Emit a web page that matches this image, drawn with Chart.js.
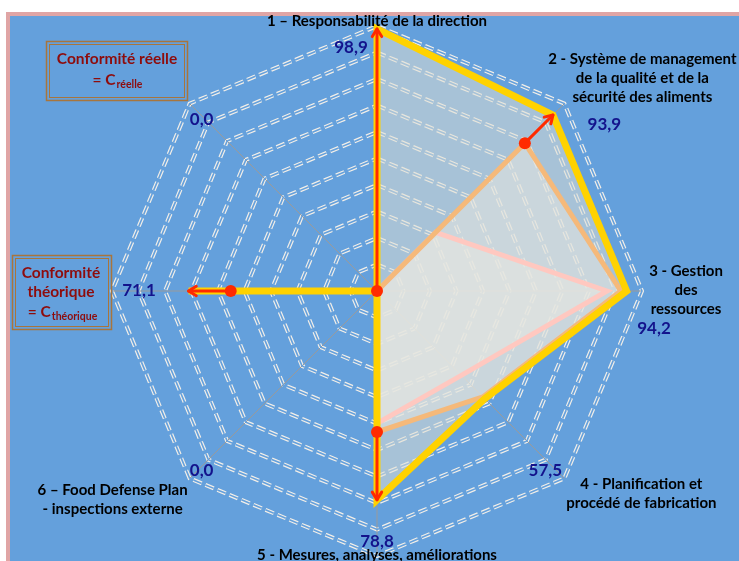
<!DOCTYPE html>
<html lang="fr">
<head>
<meta charset="utf-8">
<title>Conformité réelle / théorique</title>
<script src="https://cdn.jsdelivr.net/npm/chart.js@4.4.1/dist/chart.umd.min.js"></script>
<style>
    html, body { margin: 0; padding: 0; background: #fff; }
    #wrap { width: 739px; height: 561px; }
</style>
</head>
<body>
<div id="wrap"><canvas id="radar" width="739" height="561"></canvas></div>
<script>
// Branches of the radar (one entry per axis, lines of the label)
var axisLabels = [
    ['1 – Responsabilité de la direction'],
    ['2 - Système de management', 'de la qualité et de la', 'sécurité des aliments'],
    ['3 - Gestion', 'des', 'ressources'],
    ['4 - Planification et', 'procédé de fabrication'],
    ['5 - Mesures, analyses, améliorations'],
    ['6 – Food Defense Plan', '- inspections externe'],
    [],
    []
];

// Values (%)
var conformiteReelle = [98.9, 93.9, 94.2, 57.5, 78.8, 0.0, 71.1, 0.0];     // yellow
var conformiteTheorique = [0, 78.9, 92.0, 56.5, 53.2, 0, 55.2, 0];          // orange
var niveauInitial = [0, 31.3, 86.8, 45.0, 50.0, 0, 0, 0];                   // pink

// Scale
var scaleMin = 0;
var scaleMax = 100;
var scaleStep = 10;

// Axes where a red arrow goes from the orange point to the yellow one
var arrowAxes = [0, 1, 4, 6];

// Layout of the texts, relative to the outer vertex of each axis
var labelOffsets = [[0, -5], [78, -44], [44, -20], [77, 6], [0, -1], [-77, 12], null, null];
var valueOffsets = [[-26, 22], [40, 21], [12, 38], [-19, -8], [0, -14], [12, -8], [27, 0], [12, 16]];

var BLUE = '#64A0DC';
var RED = '#FF2A00';

function formatValue(v) {
    return v.toFixed(1).replace('.', ',');
}

// Background: white page, pink frame, blue plot
var backgroundPlugin = {
    id: 'background',
    beforeDraw: function(chart) {
        var ctx = chart.ctx;
        ctx.save();
        ctx.fillStyle = '#ffffff';
        ctx.fillRect(0, 0, chart.width, chart.height);
        ctx.fillStyle = '#E0A5A5';
        ctx.fillRect(6, 12, chart.width, chart.height);
        ctx.fillStyle = BLUE;
        ctx.fillRect(10, 16, chart.width, chart.height);
        ctx.restore();
    }
};

function drawArrowHead(ctx, from, to) {
    var a = Math.atan2(to.y - from.y, to.x - from.x);
    var len = 9, spread = 0.55;
    ctx.beginPath();
    ctx.moveTo(to.x - len * Math.cos(a - spread), to.y - len * Math.sin(a - spread));
    ctx.lineTo(to.x, to.y);
    ctx.lineTo(to.x - len * Math.cos(a + spread), to.y - len * Math.sin(a + spread));
    ctx.stroke();
}

// Red arrows, drawn just before the red dots
var arrowPlugin = {
    id: 'arrows',
    beforeDatasetDraw: function(chart, args) {
        if (args.index !== 0) return;
        var r = chart.scales.r, ctx = chart.ctx;
        ctx.save();
        ctx.strokeStyle = RED;
        ctx.lineWidth = 3;
        ctx.lineCap = 'round';
        ctx.lineJoin = 'round';
        arrowAxes.forEach(function(i) {
            var from = r.getPointPositionForValue(i, conformiteTheorique[i]);
            var to = r.getPointPositionForValue(i, conformiteReelle[i]);
            ctx.beginPath();
            ctx.moveTo(from.x, from.y);
            ctx.lineTo(to.x, to.y);
            ctx.stroke();
            drawArrowHead(ctx, from, to);
        });
        ctx.restore();
    }
};

function drawBox(ctx, x, y, w, h) {
    ctx.strokeStyle = '#A8753C';
    ctx.lineWidth = 1.5;
    ctx.strokeRect(x + 0.5, y + 0.5, w, h);
    ctx.lineWidth = 1;
    ctx.strokeRect(x + 3.5, y + 3.5, w - 6, h - 6);
}

function drawSubscriptLine(ctx, cx, cy, main, sub) {
    ctx.font = 'bold 15.5px Lato';
    var w1 = ctx.measureText(main).width;
    ctx.font = 'bold 10.5px Lato';
    var w2 = ctx.measureText(sub).width;
    var x0 = cx - (w1 + w2) / 2;
    ctx.textAlign = 'left';
    ctx.font = 'bold 15.5px Lato';
    ctx.fillText(main, x0, cy);
    ctx.font = 'bold 10.5px Lato';
    ctx.fillText(sub, x0 + w1 + 1, cy + 5);
    ctx.textAlign = 'center';
}

// Axis names, values and the two legend boxes
var textPlugin = {
    id: 'texts',
    afterDraw: function(chart) {
        var r = chart.scales.r, ctx = chart.ctx;
        ctx.save();
        ctx.textAlign = 'center';
        ctx.textBaseline = 'middle';

        ctx.fillStyle = '#000000';
        ctx.font = 'bold 15px Lato';
        axisLabels.forEach(function(lines, i) {
            var off = labelOffsets[i];
            if (!off) return;
            var p = r.getPointPosition(i, r.drawingArea);
            lines.forEach(function(line, k) {
                ctx.fillText(line, p.x + off[0], p.y + off[1] + k * 19);
            });
        });

        ctx.fillStyle = '#13138C';
        ctx.font = 'bold 17px Lato';
        conformiteReelle.forEach(function(v, i) {
            var p = r.getPointPosition(i, r.drawingArea);
            ctx.fillText(formatValue(v), p.x + valueOffsets[i][0], p.y + valueOffsets[i][1]);
        });

        drawBox(ctx, 46, 41, 141, 59);
        drawBox(ctx, 12, 255, 99, 74);
        ctx.fillStyle = '#8E0C0C';
        ctx.font = 'bold 15.5px Lato';
        ctx.fillText('Conformité réelle', 117, 59);
        drawSubscriptLine(ctx, 117, 80, '= C', 'réelle');
        ctx.font = 'bold 15.5px Lato';
        ctx.fillText('Conformité', 61, 273);
        ctx.fillText('théorique', 61, 292);
        drawSubscriptLine(ctx, 62, 312, '= C', 'théorique');
        ctx.restore();
    }
};

var ctx = document.getElementById('radar').getContext('2d');
var radarChart = new Chart(ctx, {
    type: 'radar',
    data: {
        labels: axisLabels.map(function(l) { return l.join(' '); }),
        datasets: [{
            // red dots on the orange series
            data: conformiteTheorique,
            showLine: false,
            fill: false,
            pointRadius: [6, 6, 0, 0, 6, 0, 6, 0],
            pointBackgroundColor: RED,
            pointBorderWidth: 0
        }, {
            label: 'Conformité réelle',
            data: conformiteReelle,
            borderColor: '#FFD200',
            borderWidth: 7,
            backgroundColor: 'rgba(222,222,212,0.55)',
            fill: true,
            pointRadius: 0
        }, {
            label: 'Conformité théorique',
            data: conformiteTheorique,
            borderColor: '#F5B97A',
            borderWidth: 5,
            backgroundColor: 'rgba(240,240,240,0.55)',
            fill: true,
            pointRadius: 0
        }, {
            label: 'Niveau initial',
            data: niveauInitial,
            borderColor: '#FFC8C0',
            borderWidth: 5,
            backgroundColor: 'rgba(245,245,245,0.6)',
            fill: true,
            pointRadius: 0
        }]
    },
    options: {
        responsive: false,
        animation: false,
        events: [],
        layout: {
            padding: { top: 26, bottom: 5, left: 112, right: 97 }
        },
        elements: {
            line: { tension: 0, borderJoinStyle: 'miter' }
        },
        scales: {
            r: {
                min: scaleMin,
                max: scaleMax,
                ticks: { stepSize: scaleStep, display: false },
                pointLabels: { display: false },
                angleLines: { color: '#9A9A9A', lineWidth: 1 },
                grid: { color: 'rgba(250,242,232,0.95)', lineWidth: 4 },
                border: { dash: [9, 4] }
            },
            // second copy of the scale: thin blue dashes over the white ones give the double line
            r2: {
                type: 'radialLinear',
                min: scaleMin,
                max: scaleMax,
                ticks: { stepSize: scaleStep, display: false },
                pointLabels: { display: false },
                angleLines: { display: false },
                grid: { color: BLUE, lineWidth: 1.6 },
                border: { dash: [9, 4] }
            }
        },
        plugins: {
            legend: { display: false },
            tooltip: { enabled: false },
            filler: { drawTime: 'beforeDatasetsDraw' }
        }
    },
    plugins: [backgroundPlugin, arrowPlugin, textPlugin]
});
</script>
</body>
</html>
